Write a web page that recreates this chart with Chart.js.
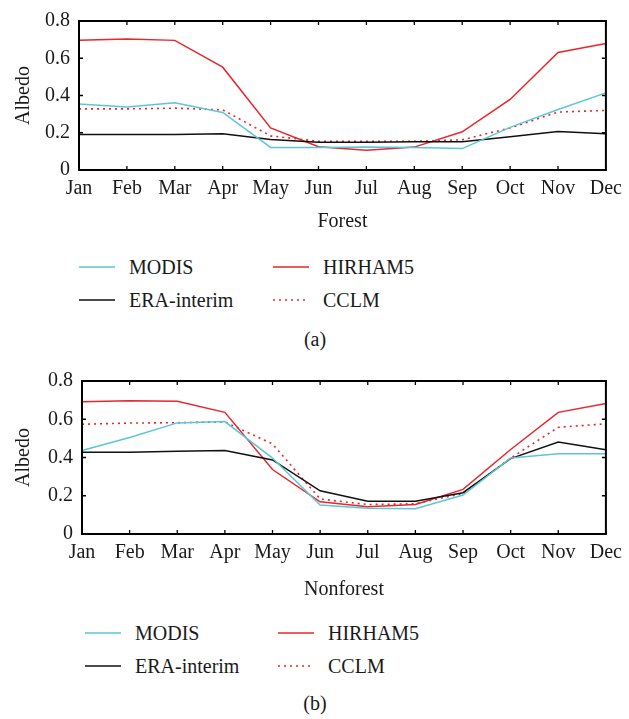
<!DOCTYPE html>
<html><head><meta charset="utf-8">
<script src="https://cdn.jsdelivr.net/npm/chart.js@4.4.1/dist/chart.umd.min.js"></script>
<style>
html,body{margin:0;padding:0;background:#fff}
body{width:629px;height:719px;position:relative;overflow:hidden;font-family:'Liberation Serif',serif;color:#1a1a1a}
canvas{position:absolute;left:0}
.lg{position:absolute;font-family:'Liberation Serif',serif;font-size:20px;line-height:24px;height:24px;white-space:nowrap;color:#1a1a1a}
.cap{position:absolute;font-family:'Liberation Serif',serif;font-size:20px;line-height:24px;width:60px;text-align:center;color:#1a1a1a}
</style></head><body>
<canvas id="c1" width="629" height="240" style="top:0"></canvas>
<canvas id="c2" width="629" height="250" style="top:360px"></canvas>
<div class="cap" style="left:285px;top:327px">(a)</div>
<div class="cap" style="left:285px;top:691px">(b)</div>
<script>
// ---- data ----
const months = ["Jan","Feb","Mar","Apr","May","Jun","Jul","Aug","Sep","Oct","Nov","Dec"];
const yTickLabels = ["0","0.2","0.4","0.6","0.8"];
const seriesNames = ["MODIS","ERA-interim","HIRHAM5","CCLM"];

const forestMODIS   = [0.354,0.338,0.361,0.309,0.121,0.121,0.124,0.121,0.115,0.229,0.325,0.414];
const forestERA     = [0.191,0.191,0.191,0.195,0.164,0.149,0.149,0.152,0.152,0.179,0.207,0.195];
const forestHIRHAM  = [0.696,0.703,0.696,0.552,0.226,0.125,0.106,0.123,0.205,0.379,0.631,0.679];
const forestCCLM    = [0.328,0.328,0.332,0.323,0.183,0.154,0.154,0.154,0.162,0.226,0.311,0.320];

const nonforestMODIS  = [0.437,0.505,0.581,0.588,0.397,0.151,0.135,0.132,0.204,0.397,0.420,0.420];
const nonforestERA    = [0.428,0.427,0.433,0.437,0.387,0.226,0.171,0.171,0.216,0.394,0.481,0.440];
const nonforestHIRHAM = [0.692,0.697,0.694,0.636,0.337,0.168,0.142,0.154,0.233,0.442,0.636,0.682];
const nonforestCCLM   = [0.574,0.580,0.582,0.586,0.471,0.183,0.154,0.158,0.212,0.397,0.558,0.576];

// ---- styles ----
const CYAN = "#5cc6d6", RED = "#e8262e", BLACK = "#111111";
const FONT = {family:"'Liberation Serif', serif", size:20};
const TXT = "#1a1a1a";

const framePlugin = {
  id:'frame',
  afterDatasetsDraw(chart){
    const {ctx, chartArea:a, scales:{x,y}} = chart;
    ctx.save();
    ctx.strokeStyle='#000'; ctx.lineWidth=1.3;
    const L=4;
    ctx.beginPath();
    x.ticks.forEach((t,i)=>{const px=x.getPixelForTick(i);
      ctx.moveTo(px,a.bottom); ctx.lineTo(px,a.bottom-L);
      ctx.moveTo(px,a.top); ctx.lineTo(px,a.top+L);});
    y.ticks.forEach((t,i)=>{const py=y.getPixelForTick(i);
      ctx.moveTo(a.left,py); ctx.lineTo(a.left+L,py);
      ctx.moveTo(a.right,py); ctx.lineTo(a.right-L,py);});
    ctx.stroke();
    ctx.lineWidth=2;
    ctx.strokeRect(a.left,a.top,a.right-a.left,a.bottom-a.top);
    ctx.restore();
  }
};

function makeChart(id, xTitle, modis, era, hirham, cclm, geo){
  return new Chart(document.getElementById(id), {
    type:'line',
    data:{
      labels: months,
      datasets:[
        {label:seriesNames[0], data:modis, borderColor:CYAN, borderWidth:1.5, pointRadius:0, tension:0},
        {label:seriesNames[1], data:era, borderColor:BLACK, borderWidth:1.5, pointRadius:0, tension:0},
        {label:seriesNames[3], data:cclm, borderColor:RED, borderWidth:1.6, borderDash:[2,4], pointRadius:0, tension:0},
        {label:seriesNames[2], data:hirham, borderColor:RED, borderWidth:1.5, pointRadius:0, tension:0}
      ]
    },
    options:{
      responsive:false, animation:false,
      layout:{padding:{left:0, right:geo.padRight, top:geo.padTop, bottom:0}},
      plugins:{legend:{display:false}, tooltip:{enabled:false}},
      scales:{
        x:{
          offset:false,
          grid:{display:false, drawTicks:false},
          border:{display:false},
          ticks:{font:FONT, color:TXT, padding:geo.xPad, maxRotation:0, autoSkip:false},
          title:{display:true, text:xTitle, font:FONT, color:TXT, padding:{top:0,bottom:geo.titlePad}},
          afterFit(s){ s.height = geo.xHeight; }
        },
        y:{
          min:0, max:0.8,
          grid:{display:false, drawTicks:false},
          border:{display:false},
          ticks:{stepSize:0.2, font:FONT, color:TXT, padding:9,
                 callback:(v,i)=>yTickLabels[i]},
          title:{display:true, text:"Albedo", font:FONT, color:TXT, padding:{top:12,bottom:0}},
          afterFit(s){ s.width = geo.yWidth; }
        }
      }
    },
    plugins:[framePlugin]
  });
}

makeChart('c1', 'Forest', forestMODIS, forestERA, forestHIRHAM, forestCCLM,
  {padRight:20, padTop:15, xPad:7, xHeight:70, titlePad:6, yWidth:79});
makeChart('c2', 'Nonforest', nonforestMODIS, nonforestERA, nonforestHIRHAM, nonforestCCLM,
  {padRight:18, padTop:19, xPad:7, xHeight:76, titlePad:8, yWidth:82});

// ---- HTML legends ----
function swatch(x, y, color, dashed){
  const ns="http://www.w3.org/2000/svg";
  const svg=document.createElementNS(ns,"svg");
  svg.setAttribute("width","36"); svg.setAttribute("height","4");
  svg.style.position="absolute"; svg.style.left=x+"px"; svg.style.top=(y-2)+"px";
  const ln=document.createElementNS(ns,"line");
  ln.setAttribute("x1","0"); ln.setAttribute("x2","36"); ln.setAttribute("y1","2"); ln.setAttribute("y2","2");
  ln.setAttribute("stroke",color); ln.setAttribute("stroke-width","1.6");
  if(dashed) ln.setAttribute("stroke-dasharray","2 4");
  svg.appendChild(ln);
  document.body.appendChild(svg);
}
function label(x, y, text){
  const d=document.createElement("div"); d.className="lg";
  d.style.fontFamily="'Liberation Serif', serif";
  d.style.left=x+"px"; d.style.top=(y-12)+"px"; d.textContent=text;
  document.body.appendChild(d);
}
function legend(col1, col2, row1, row2){
  swatch(col1, row1, CYAN, false);  label(col1+50, row1, seriesNames[0]);
  swatch(col2, row1, RED, false);   label(col2+50, row1, seriesNames[2]);
  swatch(col1, row2, BLACK, false); label(col1+50, row2, seriesNames[1]);
  swatch(col2, row2, RED, true);    label(col2+50, row2, seriesNames[3]);
}
legend(79, 273, 267, 300);
legend(85, 278, 633, 666);
</script>
</body></html>
